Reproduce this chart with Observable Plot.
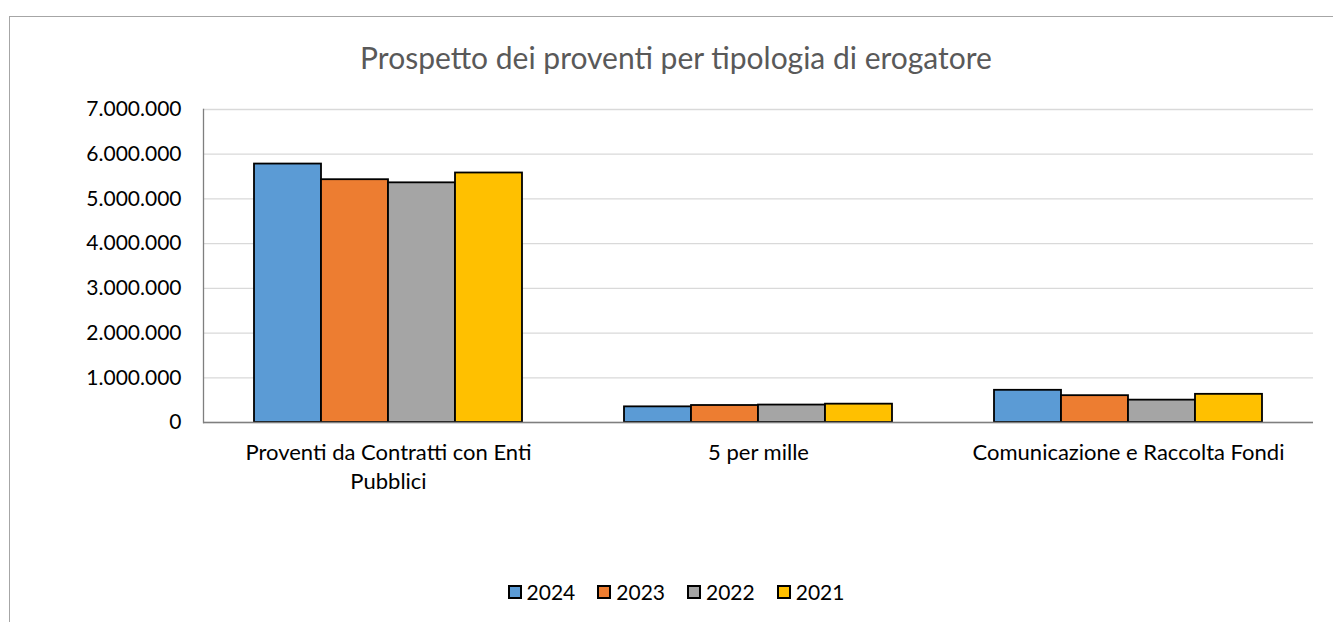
<!DOCTYPE html>
<html>
<head>
<meta charset="utf-8">
<script src="https://cdn.jsdelivr.net/npm/d3@7"></script>
<script src="https://cdn.jsdelivr.net/npm/@observablehq/plot@0.6"></script>
<style>
  html, body { margin: 0; padding: 0; background: #fff; width: 1333px; height: 622px; overflow: hidden; }
  #wrap { position: relative; width: 1333px; height: 622px; font-family: Lato, "Open Sans", sans-serif; }
  #border { position: absolute; left: 9px; top: 16px; width: 1400px; height: 700px; border-top: 1px solid #a6a6a6; border-left: 1px solid #a6a6a6; }
  #title { position: absolute; left: 0; width: 1352px; top: 39px; text-align: center; font-size: 30px; color: #595959; }
  #chart { position: absolute; left: 0; top: 90px; }
  #legend { position: absolute; left: 0; width: 1352px; top: 579px; display: flex; justify-content: center; gap: 0; font-size: 21px; color: #000; }
  .item { display: flex; align-items: center; margin: 0 11px; }
  .sw { width: 10px; height: 10px; border: 2px solid #000; margin-right: 5px; }
</style>
</head>
<body>
<div id="wrap">
  <div id="border"></div>
  <div id="title">Prospetto dei proventi per tipologia di erogatore</div>
  <div id="chart"></div>
  <div id="legend"></div>
</div>
<script>
const categories = ["Proventi da Contratti con Enti Pubblici", "5 per mille", "Comunicazione e Raccolta Fondi"];
const categoryLabels = ["Proventi da Contratti con Enti\nPubblici", "5 per mille", "Comunicazione e Raccolta Fondi"];
const years = ["2024", "2023", "2022", "2021"];
const v2024 = [5780000, 350000, 720000];
const v2023 = [5430000, 380000, 600000];
const v2022 = [5360000, 390000, 500000];
const v2021 = [5580000, 410000, 630000];
const yTicks = [0, 1000000, 2000000, 3000000, 4000000, 5000000, 6000000, 7000000];
const colors = ["#5B9BD5", "#ED7D31", "#A5A5A5", "#FFC000"];

const series = {"2024": v2024, "2023": v2023, "2022": v2022, "2021": v2021};
const data = [];
categories.forEach((c, i) => years.forEach(y => data.push({category: c, year: y, value: series[y][i]})));

const fmt = d3.formatLocale({decimal: ",", thousands: ".", grouping: [3], currency: ["", "€"]}).format(",");

const chart = Plot.plot({
  width: 1333,
  height: 420,
  marginLeft: 202,
  marginRight: 20,
  marginTop: 19,
  marginBottom: 88,
  style: {fontFamily: "Lato, 'Open Sans', sans-serif", fontSize: "21px", color: "#000", background: "transparent"},
  fx: {domain: categories, padding: 0, label: null},
  x: {domain: years, paddingInner: 0, paddingOuter: 0.74, axis: null},
  y: {domain: [0, 7000000], label: null},
  color: {domain: years, range: colors},
  marks: [
    Plot.gridY(yTicks, {stroke: "#d9d9d9", strokeOpacity: 1, strokeWidth: 1.3}),
    Plot.barY(data, {fx: "category", x: "year", y: "value", fill: "year", stroke: "#000", strokeWidth: 1.8, inset: 0}),
    Plot.ruleY([0], {stroke: "#7f7f7f", strokeWidth: 1.3}),
    Plot.frame({anchor: "left", facetAnchor: "left", stroke: "#7f7f7f", strokeWidth: 1.3}),
    Plot.axisY(yTicks, {tickSize: 0, tickPadding: 22, tickFormat: fmt, fontSize: 21, label: null, fill: "#000"}),
    Plot.axisFx({anchor: "bottom", tickSize: 0, tickPadding: 16, fontSize: 22, lineHeight: 1.35, label: null, fill: "#000",
      tickFormat: d => categoryLabels[categories.indexOf(d)]})
  ]
});
document.getElementById("chart").appendChild(chart);

const color = chart.scale("color");
const legend = d3.select("#legend");
years.forEach((y, i) => {
  const item = legend.append("div").attr("class", "item");
  item.append("div").attr("class", "sw").style("background", color.range[i]);
  item.append("span").text(y);
});
</script>
</body>
</html>
